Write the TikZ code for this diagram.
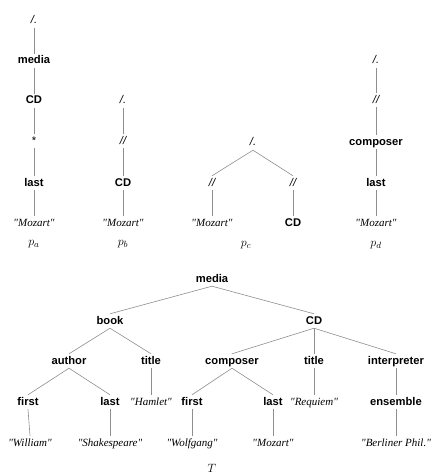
\documentclass[tikz,border=0pt]{standalone}
\usepackage{fontspec}
\setsansfont{Liberation Sans}
\newfontfamily\strfont{Liberation Serif}
\usetikzlibrary{positioning}
\definecolor{EdgeGray}{HTML}{8E8E8E}
\tikzset{
  elem/.style={font=\fontsize{11.2}{13}\selectfont\sffamily\bfseries, inner sep=2.5pt, text height=7.5pt, text depth=1.5pt},
  axis/.style={font=\fontsize{11.2}{13}\selectfont\sffamily\itshape, inner sep=2.5pt, text height=7.5pt, text depth=1.5pt},
  str/.style={font=\fontsize{11}{13}\selectfont\strfont\itshape, inner sep=2.5pt, text height=7.5pt, text depth=1.5pt},
  plabel/.style={font=\fontsize{12.5}{14}\selectfont, inner sep=1pt},
  edge/.style={draw=EdgeGray, line width=0.6pt}
}
\begin{document}
\begin{tikzpicture}[x=1pt, y=-1pt]
\useasboundingbox (0,0) rectangle (441,476);
% pattern p_a
\node[axis] (a0) at (34,21) {/.};
\node[elem] (a1) at (34,61) {media};
\node[elem] (a2) at (34,101) {CD};
\node[elem, font=\fontsize{11.2}{13}\selectfont\sffamily] (a3) at (34,141) {*};
\node[elem] (a4) at (34,183) {last};
\node[str] (a5) at (34,223) {"Mozart"};
\node[plabel] (pa) at (34,244) {$p_a$};
% pattern p_b
\node[axis] (b0) at (123,101) {/.};
\node[axis] (b1) at (123,141) {//};
\node[elem] (b2) at (123,183) {CD};
\node[str] (b3) at (123,223) {"Mozart"};
\node[plabel] (pb) at (123,244) {$p_b$};
% pattern p_c
\node[axis] (c0) at (253,143) {/.};
\node[axis] (c1) at (212,183) {//};
\node[axis] (c2) at (293,183) {//};
\node[str] (c3) at (212,223) {"Mozart"};
\node[elem] (c4) at (293,223) {CD};
\node[plabel] (pc) at (246,245) {$p_c$};
% pattern p_d
\node[axis] (d0) at (376,61) {/.};
\node[axis] (d1) at (376,100) {//};
\node[elem] (d2) at (376,142) {composer};
\node[elem] (d3) at (376,183) {last};
\node[str] (d4) at (376,223) {"Mozart"};
\node[plabel] (pd) at (376,245) {$p_d$};
% document tree T
\node[elem] (media) at (212,279) {media};
\node[elem] (book) at (110,321) {book};
\node[elem] (cd) at (314,321) {CD};
\node[elem] (author) at (69,361) {author};
\node[elem] (btitle) at (151,361) {title};
\node[elem] (composer) at (232,361) {composer};
\node[elem] (ctitle) at (314,361) {title};
\node[elem] (interp) at (396,361) {interpreter};
\node[elem] (afirst) at (28,402) {first};
\node[elem] (alast) at (110,402) {last};
\node[str] (hamlet) at (151,402) {"Hamlet"};
\node[elem] (cfirst) at (192,402) {first};
\node[elem] (clast) at (273,402) {last};
\node[str] (requiem) at (314,402) {"Requiem"};
\node[elem] (ensemble) at (396,402) {ensemble};
\node[str] (william) at (30,443) {"William"};
\node[str] (shakes) at (110,443) {"Shakespeare"};
\node[str] (wolfgang) at (192,443) {"Wolfgang"};
\node[str] (mozart) at (273,443) {"Mozart"};
\node[str] (berliner) at (396,443) {"Berliner Phil."};
\node[plabel] (T) at (212,468) {$T$};
\foreach \u/\v in {a0/a1,a1/a2,a2/a3,a3/a4,a4/a5, b0/b1,b1/b2,b2/b3,
  c0/c1,c0/c2,c1/c3,c2/c4, d0/d1,d1/d2,d2/d3,d3/d4,
  media/book,media/cd,book/author,book/btitle,cd/composer,cd/ctitle,cd/interp,
  author/afirst,author/alast,btitle/hamlet,composer/cfirst,composer/clast,
  ctitle/requiem,interp/ensemble,afirst/william,alast/shakes,cfirst/wolfgang,
  clast/mozart,ensemble/berliner}
  \draw[edge] (\u.south) -- (\v.north);
\end{tikzpicture}
\end{document}
